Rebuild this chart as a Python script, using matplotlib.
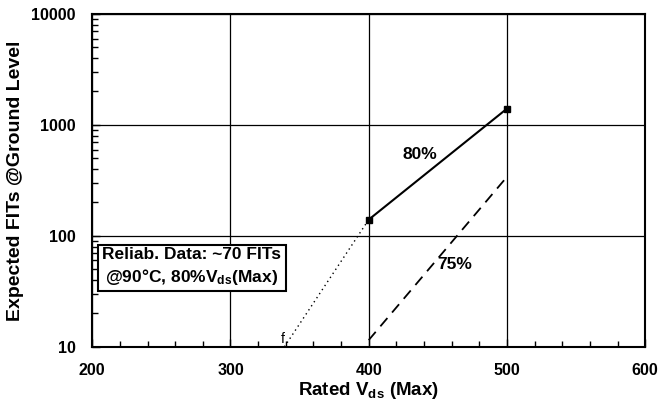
import numpy as np
import matplotlib
matplotlib.use("Agg")
import matplotlib.pyplot as plt
from matplotlib.ticker import MultipleLocator, LogLocator, NullFormatter

plt.rcParams['font.family'] = ['Liberation Sans', 'DejaVu Sans']
plt.rcParams['font.weight'] = 'bold'
plt.rcParams['mathtext.fontset'] = 'custom'
plt.rcParams['mathtext.rm'] = 'Liberation Sans:bold'
plt.rcParams['mathtext.bf'] = 'Liberation Sans:bold'
plt.rcParams['mathtext.it'] = 'Liberation Sans:bold'

# data
vds_80 = [400, 500]
fits_80 = [140, 1400]
vds_75 = [400, 500]
fits_75 = [11.5, 340]
vds_extrap = [339, 400]
fits_extrap = [10, 140]

fig = plt.figure(figsize=(6.59, 4.09), dpi=100)
ax = fig.add_axes([0.14, 0.152, 0.839, 0.814])

ax.plot(vds_80, fits_80, color='black', lw=1.5, marker='s', ms=4)
ax.plot(vds_75, fits_75, color='black', lw=1.3, dashes=(6, 4))
ax.plot(vds_extrap, fits_extrap, color='black', lw=1.0, linestyle=(0, (1, 2.5)))

ax.set_yscale('log')
ax.set_xlim(200, 600)
ax.set_ylim(10, 10000)
ax.xaxis.set_major_locator(MultipleLocator(100))
ax.xaxis.set_minor_locator(MultipleLocator(20))
ax.yaxis.set_major_locator(LogLocator(base=10))
ax.yaxis.set_minor_locator(LogLocator(base=10, subs=np.arange(2, 10)))
ax.yaxis.set_minor_formatter(NullFormatter())
ax.set_yticks([10, 100, 1000, 10000])
ax.set_yticklabels(['10', '100', '1000', '10000'])

ax.grid(True, which='major', color='black', lw=0.9)
ax.tick_params(which='both', direction='in', labelsize=11.5, width=1)
ax.tick_params(axis='x', which='major', length=6, pad=12)
ax.tick_params(axis='y', which='major', length=6, pad=12)
ax.tick_params(which='minor', length=4)
for s in ax.spines.values():
    s.set_linewidth(1.5)

ax.set_xlabel('Rated V$_{\\mathbf{ds}}$ (Max)', fontsize=13.5, fontweight='bold', labelpad=1)
ax.set_ylabel('Expected FITs @Ground Level', fontsize=14, fontweight='bold', labelpad=5)

ax.text(437, 540, '80%', fontsize=12.5, fontweight='bold', ha='center', va='center')
ax.text(462, 55, '75%', fontsize=12.5, fontweight='bold', ha='center', va='center')
ax.text(338, 10.1, 'f', fontsize=10, fontweight='normal', ha='center', va='bottom')

ax.text(0.18, 0.24, 'Reliab. Data: ~70 FITs\n@90°C, 80%V$_{\\mathbf{ds}}$(Max)',
        transform=ax.transAxes, fontsize=12.5, fontweight='bold',
        ha='center', va='center', linespacing=1.3,
        bbox=dict(boxstyle='square,pad=0.25', fc='white', ec='black', lw=1.5))

fig.savefig('out.png', dpi=100)
